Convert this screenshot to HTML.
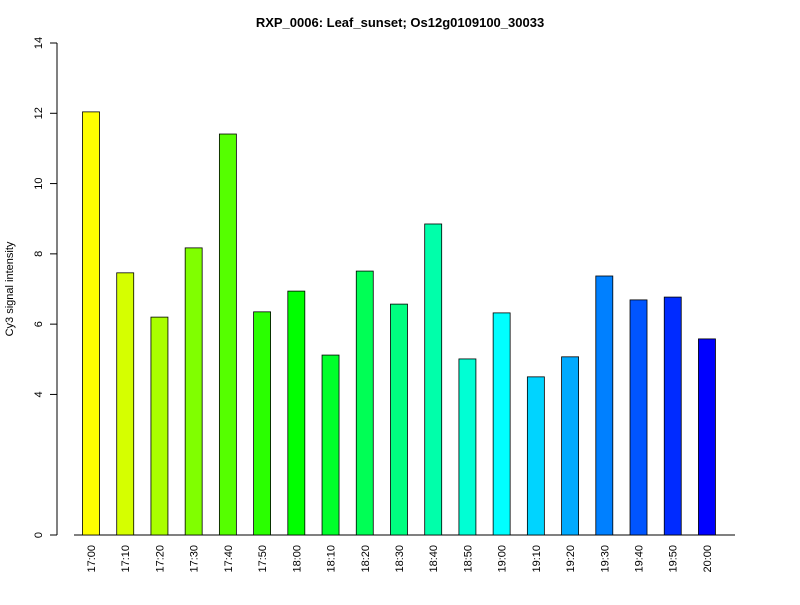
<!DOCTYPE html>
<html><head><meta charset="utf-8"><style>
body{margin:0;background:#fff;}
svg text{font-family:"Liberation Sans",Arial,sans-serif;}
</style></head><body>
<svg id="chart" width="800" height="600" xmlns="http://www.w3.org/2000/svg">
<rect width="800" height="600" fill="#fff"/>
<text x="400" y="27" text-anchor="middle" font-size="13" font-weight="bold">RXP_0006: Leaf_sunset; Os12g0109100_30033</text>
<text transform="translate(13,289) rotate(-90)" text-anchor="middle" font-size="11">Cy3 signal intensity</text>
<g id="axes"></g>
<g id="bars"></g>
</svg>
<script>
const categories=["17:00","17:10","17:20","17:30","17:40","17:50","18:00","18:10","18:20","18:30","18:40","18:50","19:00","19:10","19:20","19:30","19:40","19:50","20:00"];
const values=[12.04,7.46,6.20,8.17,11.41,6.35,6.94,5.12,7.51,6.57,8.85,5.01,6.32,4.50,5.07,7.37,6.69,6.77,5.58];
const yTicks=[0,4,6,8,10,12,14];
const NS="http://www.w3.org/2000/svg";
const y0=535,y1=43,ymax=14;
function yScale(v){return y0-(v/ymax)*(y0-y1);}
function xScale(i){return 91+i*34.22;}
function mk(tag,attrs,parent){const e=document.createElementNS(NS,tag);for(const k in attrs)e.setAttribute(k,attrs[k]);parent.appendChild(e);return e;}
const axes=document.getElementById('axes'),bars=document.getElementById('bars');
const yl=mk('line',{x1:57,x2:57,y1:yScale(0),y2:yScale(ymax),stroke:'#000'},axes);


yTicks.forEach(t=>{
 const y=yScale(t);
 mk('line',{x1:50,x2:57,y1:y,y2:y,stroke:'#000'},axes);
 const tx=mk('text',{transform:`translate(42,${y}) rotate(-90)`,'text-anchor':'middle','font-size':11},axes);
 tx.textContent=t;
 
 
});
const xl=mk('line',{x1:74,x2:735,y1:535,y2:535,stroke:'#000'},axes);


const n=categories.length;
categories.forEach((c,i)=>{
 const x=xScale(i),v=values[i],w=17;
 const hue=60+i*180/(n-1);
 const r=mk('rect',{x:x-w/2,y:yScale(v),width:w,height:yScale(0)-yScale(v),fill:`hsl(${hue},100%,50%)`,stroke:'#000','stroke-width':0.8},bars);
 
 
 const t=mk('text',{transform:`translate(${x+4},545) rotate(-90)`,'text-anchor':'end','font-size':11},axes);
 t.textContent=c;
 
 
});
</script>
</body></html>
